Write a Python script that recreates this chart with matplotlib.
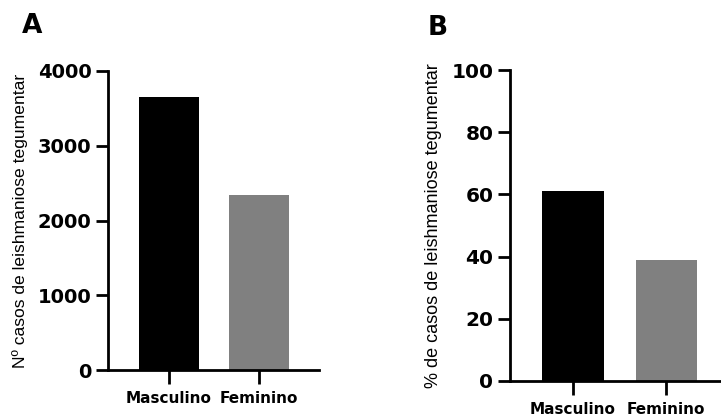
import matplotlib
matplotlib.use("Agg")
from matplotlib import pyplot as plt

plt.rcParams['font.family'] = ['DejaVu Sans']

# dados
categorias = ["Masculino", "Feminino"]
casos = [3656, 2337]
percentual = [61.0, 39.0]
cores = ["#000000", "#808080"]

fig = plt.figure(figsize=(7.21, 4.18), dpi=100)

# painel A
axA = fig.add_axes([108 / 721, 48 / 418, 211 / 721, 299 / 418])
# painel B
axB = fig.add_axes([510 / 721, 37 / 418, 210 / 721, 311 / 418])

def estilo(ax, ymax, passo, fs_tick):
    for s in ["top", "right"]:
        ax.spines[s].set_visible(False)
    for s in ["left", "bottom"]:
        ax.spines[s].set_linewidth(2.0)
    ax.set_ylim(0, ymax)
    ax.set_yticks(range(0, ymax + 1, passo))
    ax.tick_params(axis="y", length=9, width=2.0, pad=3.0, labelsize=fs_tick)
    ax.tick_params(axis="x", length=10, width=2.0, pad=5, labelsize=11)
    for t in ax.get_yticklabels():
        t.set_fontweight("bold")
    for t in ax.get_xticklabels():
        t.set_fontweight("bold")

rotulo = dict(family=['Liberation Sans', 'DejaVu Sans'])

axA.bar(categorias, casos, width=0.667, color=cores)
axA.set_xlim(-0.678, 1.667)
estilo(axA, 4000, 1000, 14)
axA.set_ylabel("Nº casos de leishmaniose tegumentar", fontsize=12.6, **rotulo)
axA.yaxis.set_label_coords(-0.379, 0.5)

axB.bar(categorias, percentual, width=0.656, color=cores)
axB.set_xlim(-0.677, 1.58)
estilo(axB, 100, 20, 14.5)
axB.set_ylabel("% de casos de leishmaniose tegumentar", fontsize=13, **rotulo)
axB.yaxis.set_label_coords(-0.324, 0.5)

fig.text(22 / 721, 1 - 33 / 418, "A", fontsize=19, fontweight="bold")
fig.text(428 / 721, 1 - 35 / 418, "B", fontsize=19, fontweight="bold")

fig.savefig("out.png", dpi=100)
